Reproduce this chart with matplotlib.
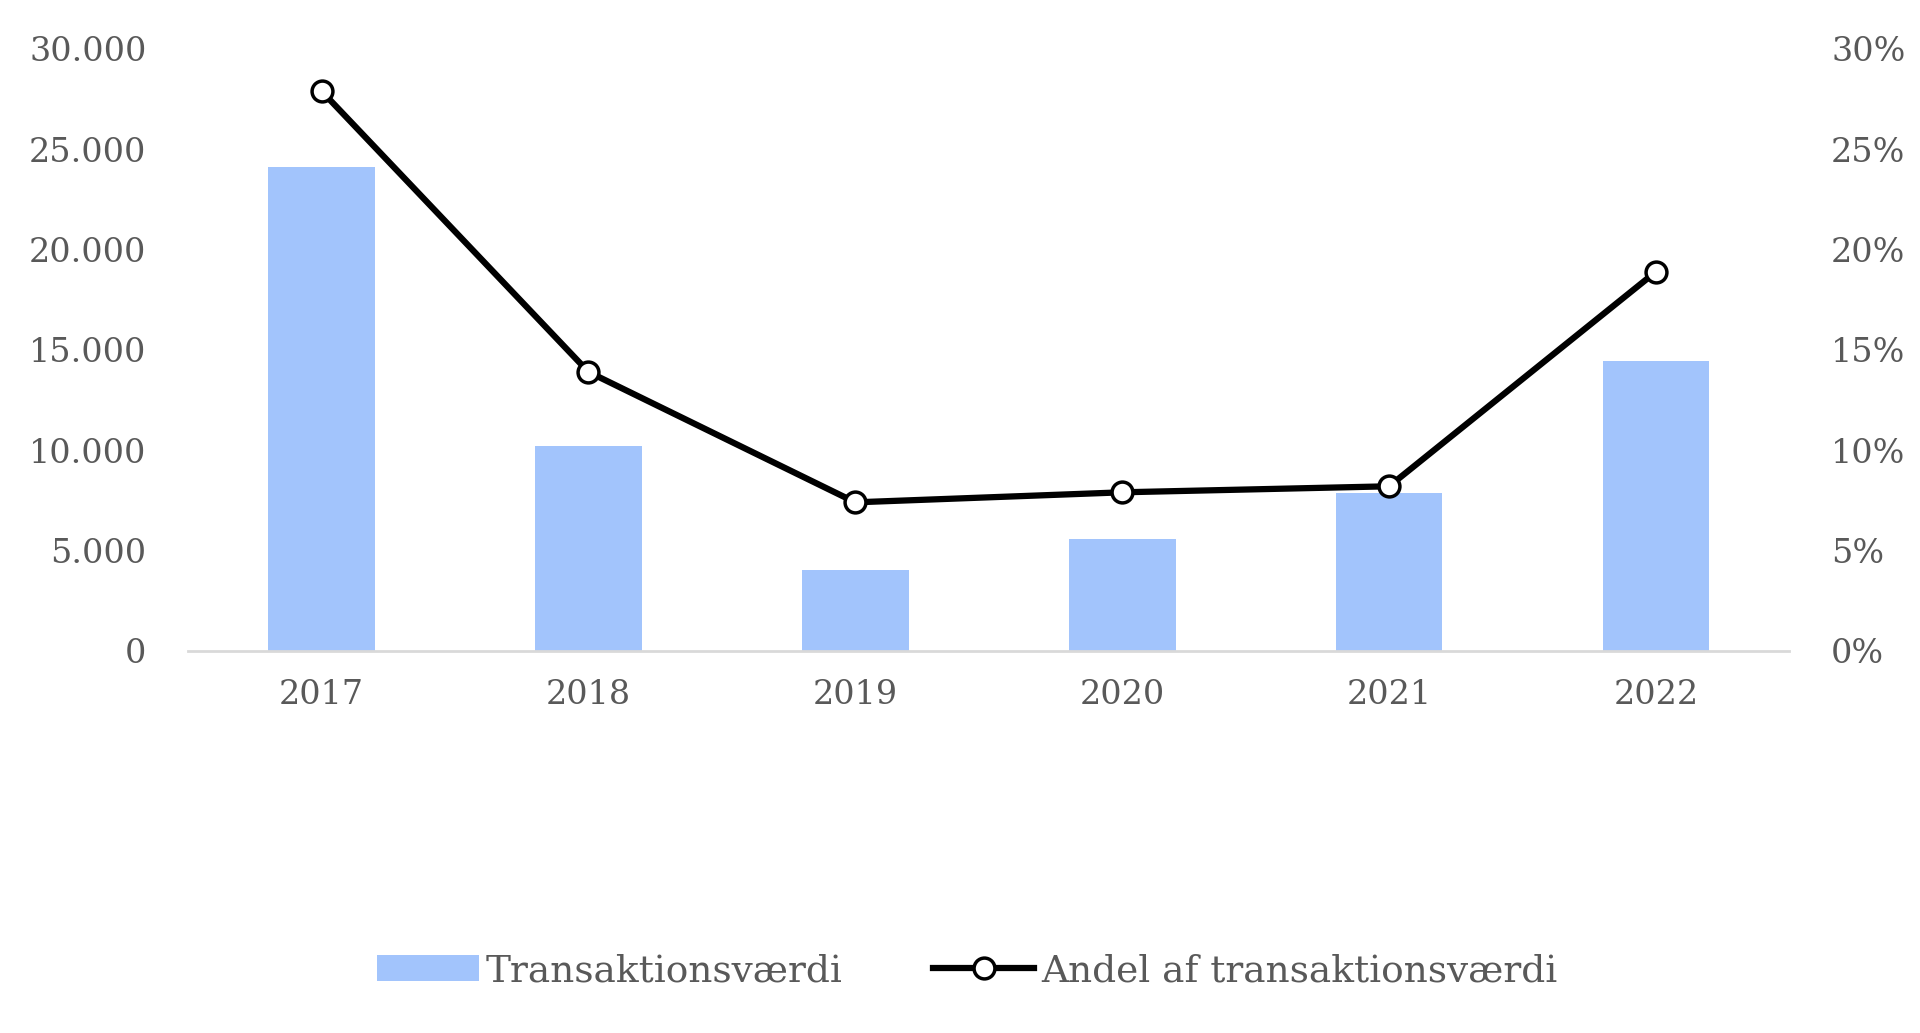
import matplotlib
matplotlib.use("Agg")
import matplotlib.pyplot as plt
from matplotlib.ticker import FuncFormatter

years = ["2017", "2018", "2019", "2020", "2021", "2022"]
transaktionsvaerdi = [24100, 10200, 4050, 5580, 7870, 14450]
andel = [0.279, 0.139, 0.074, 0.079, 0.082, 0.189]

left_ticks = [0, 5000, 10000, 15000, 20000, 25000, 30000]
right_ticks = [0, 0.05, 0.10, 0.15, 0.20, 0.25, 0.30]

plt.rcParams['font.family'] = ['DejaVu Serif']

fig = plt.figure(figsize=(19.2, 10.33), dpi=100)
ax = fig.add_axes([0.098, 0.370, 0.834, 0.5826])
ax2 = ax.twinx()

x = list(range(len(years)))
bars = ax.bar(x, transaktionsvaerdi, width=0.4, color="#a2c4fc", label="Transaktionsværdi", zorder=2)
ln, = ax2.plot(x, andel, color="black", lw=4.5, marker="o", markersize=15,
               markerfacecolor="white", markeredgecolor="black", markeredgewidth=2.5,
               label="Andel af transaktionsværdi", zorder=3)

ax.set_xlim(-0.5, len(years) - 0.5)
ax.set_ylim(0, 30000)
ax2.set_ylim(0, 0.30)
ax.set_yticks(left_ticks)
ax2.set_yticks(right_ticks)
ax.yaxis.set_major_formatter(FuncFormatter(lambda v, p: f"{int(v):,}".replace(",", ".")))
ax2.yaxis.set_major_formatter(FuncFormatter(lambda v, p: f"{round(v*100):d}%"))
ax.set_xticks(x)
ax.set_xticklabels(years)

for a in (ax, ax2):
    for s in a.spines.values():
        s.set_visible(False)
    a.tick_params(length=0, labelsize=24, labelcolor="#595959")
ax.spines['bottom'].set_visible(True)
ax.spines['bottom'].set_color("#d9d9d9")
ax.spines['bottom'].set_linewidth(2)
ax.tick_params(axis='y', pad=30)
ax2.tick_params(axis='y', pad=30)
ax.tick_params(axis='x', pad=20)

fig.legend(handles=[bars, ln], loc="center", bbox_to_anchor=(0.504, 0.060), ncol=2,
           frameon=False, fontsize=27, handlelength=2.7, handletextpad=0.2,
           columnspacing=2.4, labelcolor="#595959")

fig.savefig("out.png", dpi=100, facecolor="white")
